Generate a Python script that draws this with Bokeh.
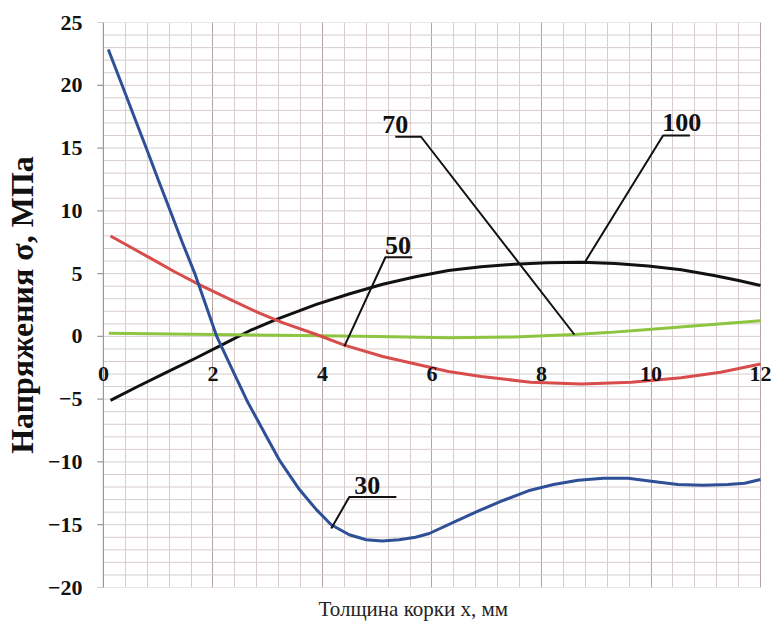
from bokeh.plotting import figure
from bokeh.models import (Range1d, SingleIntervalTicker, FixedTicker, ColumnDataSource,
                          LabelSet, Span, Title)
from bokeh.core.properties import value
from bokeh.embed import file_html
from bokeh.resources import INLINE

# Curve "30" (blue)
x30 = [0.09, 0.36, 0.58, 0.8, 1.0, 1.22, 1.44, 1.67, 1.87, 2.07, 2.35, 2.62, 2.98, 3.22, 3.58,
       3.89, 4.16, 4.49, 4.8, 5.09, 5.4, 5.7, 5.95, 6.4, 6.85, 7.31, 7.76, 8.22, 8.67, 9.13,
       9.58, 10.04, 10.49, 10.95, 11.4, 11.71, 12.0]
y30 = [22.85, 19.8, 17.3, 14.8, 12.5, 10.0, 7.5, 5.0, 2.5, 0.0, -2.6, -5.1, -8.0, -9.9, -12.2,
       -13.8, -15.0, -15.8, -16.2, -16.3, -16.2, -16.0, -15.7, -14.8, -13.9, -13.05, -12.3,
       -11.8, -11.45, -11.3, -11.3, -11.55, -11.8, -11.85, -11.8, -11.7, -11.4]
# Curve "50" (red)
x50 = [0.13, 0.5, 0.85, 1.3, 1.76, 2.36, 2.85, 3.27, 3.89, 4.4, 5.1, 5.7, 6.3, 6.9, 7.8, 8.73,
       9.64, 10.55, 11.27, 12.0]
y50 = [8.0, 7.1, 6.25, 5.15, 4.1, 2.85, 1.85, 1.1, 0.15, -0.7, -1.6, -2.2, -2.8, -3.2, -3.65,
       -3.8, -3.65, -3.3, -2.85, -2.2]
# Curve "70" (green)
x70 = [0.1, 2.0, 4.0, 5.0, 6.3, 7.5, 8.6, 9.2, 9.95, 11.0, 12.0]
y70 = [0.25, 0.15, 0.05, 0.0, -0.1, -0.05, 0.15, 0.3, 0.55, 0.9, 1.25]
# Curve "100" (black)
x100 = [0.13, 0.6, 1.16, 1.7, 2.2, 2.67, 3.16, 3.89, 4.5, 5.1, 5.7, 6.3, 6.9, 7.5, 8.1, 8.73,
        9.35, 9.95, 10.55, 11.15, 11.6, 12.0]
y100 = [-5.1, -4.05, -2.85, -1.7, -0.6, 0.45, 1.35, 2.55, 3.4, 4.15, 4.75, 5.25, 5.55, 5.75,
        5.87, 5.9, 5.8, 5.6, 5.3, 4.85, 4.45, 4.05]

# Callout labels and leader lines
callout_text = ["30", "50", "70", "100"]
callout_x = [4.82, 5.38, 5.33, 10.56]
callout_y = [-11.9, 7.2, 16.9, 17.0]
leader_xs = [[5.35, 4.49, 4.16], [5.64, 5.15, 4.4], [5.33, 5.8, 8.6], [10.71, 10.22, 8.8]]
leader_ys = [[-12.8, -12.8, -15.3], [6.3, 6.3, -0.8], [15.9, 15.9, 0.15], [16.0, 16.0, 5.97]]

x_ticks = [0, 2, 4, 6, 8, 10, 12]
x_tick_labels = ["0", "2", "4", "6", "8", "10", "12"]
y_ticks = [-20, -15, -10, -5, 0, 5, 10, 15, 20, 25]
y_grid_values = list(range(-20, 26))

X_MIN, X_MAX, Y_MIN, Y_MAX = 0, 12, -20, 25
FONT = "Liberation Serif"
GRID = "#d8cccc"
AXIS = "#a09898"

# the frame is a little wider than the data area so that edge tick labels are not cut
p = figure(width=771, height=628, output_backend="svg", toolbar_location=None,
           x_range=Range1d(-0.29, 12.2), y_range=Range1d(Y_MIN, Y_MAX),
           x_axis_location=None,
           min_border_left=87, min_border_right=0, min_border_top=22, min_border_bottom=41)
p.background_fill_color = "white"
p.border_fill_color = "white"
p.outline_line_color = None

# vertical grid
p.xgrid.ticker = SingleIntervalTicker(interval=2, num_minor_ticks=5)
p.xgrid.grid_line_color = "#b3a3a3"
p.xgrid.minor_grid_line_color = GRID
p.ygrid.visible = False

# horizontal grid restricted to the data area
p.segment(x0=[X_MIN] * len(y_grid_values), x1=[X_MAX] * len(y_grid_values),
          y0=y_grid_values, y1=y_grid_values, line_color=GRID, line_width=1)
# y axis line and outward ticks at x = 0
p.add_layout(Span(location=X_MIN, dimension="height", line_color=AXIS, line_width=1.2))
p.segment(x0=[X_MIN - 0.11] * len(y_ticks), x1=[X_MIN] * len(y_ticks), y0=y_ticks, y1=y_ticks,
          line_color=AXIS, line_width=1.2)

# y axis labels
p.yaxis.ticker = FixedTicker(ticks=y_ticks)
p.yaxis.axis_line_color = None
p.yaxis.major_tick_line_color = None
p.yaxis.minor_tick_line_color = None
p.yaxis.major_tick_out = 0
p.yaxis.major_tick_in = 0
p.yaxis.major_label_text_font = FONT
p.yaxis.major_label_text_font_style = "bold"
p.yaxis.major_label_text_font_size = "22px"
p.yaxis.major_label_text_color = "#111111"
p.yaxis.major_label_standoff = 5
p.yaxis.axis_label = "Напряжения σ, МПа"
p.yaxis.axis_label_text_font = FONT
p.yaxis.axis_label_text_font_style = "bold"
p.yaxis.axis_label_text_font_size = "32px"
p.yaxis.axis_label_text_color = "#111111"
p.yaxis.axis_label_standoff = 5

# x axis title
p.add_layout(Title(text="Толщина корки x, мм", align="left", offset=231, standoff=14,
                   text_font=FONT, text_font_style="normal", text_font_size="21px",
                   text_color="#222222"), "below")

# curves
p.line(x100, y100, line_color="#111111", line_width=3)
p.line(x70, y70, line_color="#8dc440", line_width=3)
p.line(x50, y50, line_color="#d94c4c", line_width=3)
p.line(x30, y30, line_color="#2f4f97", line_width=3)

# leaders
p.multi_line(xs=leader_xs, ys=leader_ys, line_color="#111111", line_width=2)

# callout text
p.text(x=callout_x, y=callout_y, text=callout_text, text_font=value(FONT),
       text_font_style="bold", text_font_size="26px", text_align="center",
       text_baseline="alphabetic", text_color="#111111")

# x tick labels placed along the zero line
tick_src = ColumnDataSource(dict(x=x_ticks, y=[0] * len(x_ticks), t=x_tick_labels))
p.add_layout(LabelSet(x="x", y="y", text="t", source=tick_src, text_font=FONT,
                      text_font_style="bold", text_font_size="22px", text_align="center",
                      text_baseline="middle", y_offset=-38, text_color="#111111"))

open("out.html", "w").write(file_html(p, INLINE))
